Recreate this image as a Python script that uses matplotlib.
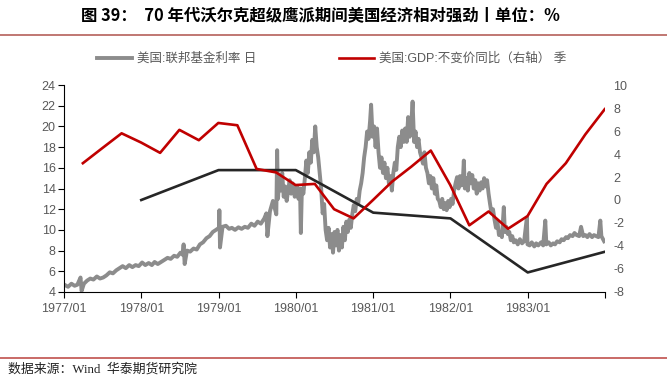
import matplotlib
matplotlib.use("Agg")
import matplotlib.pyplot as plt
from matplotlib.lines import Line2D
import pandas as pd

plt.rcParams['font.family'] = ['Liberation Sans', 'Noto Sans CJK SC']
plt.rcParams['axes.unicode_minus'] = False

# 美国:联邦基金利率 日
ff_dates = ["1977-01-03", "1977-01-20", "1977-02-05", "1977-02-20", "1977-03-05", "1977-03-20",
            "1977-03-25", "1977-04-05", "1977-04-20", "1977-05-05", "1977-05-20", "1977-06-05",
            "1977-06-20", "1977-07-05", "1977-07-20", "1977-08-05", "1977-08-20", "1977-09-05",
            "1977-09-20", "1977-10-05", "1977-10-20", "1977-11-05", "1977-11-20", "1977-12-05",
            "1977-12-20",
            "1978-01-05", "1978-01-20", "1978-02-05", "1978-02-20", "1978-03-05", "1978-03-20",
            "1978-04-05", "1978-04-20", "1978-05-05", "1978-05-20", "1978-06-05", "1978-06-20",
            "1978-07-05", "1978-07-15", "1978-07-20", "1978-07-25", "1978-08-05", "1978-08-20",
            "1978-09-05", "1978-09-20", "1978-10-05", "1978-10-20", "1978-11-05", "1978-11-20",
            "1978-12-05", "1978-12-20",
            "1979-01-03", "1979-01-05", "1979-01-08", "1979-01-20", "1979-02-05", "1979-02-20",
            "1979-03-05", "1979-03-20", "1979-04-05", "1979-04-20", "1979-05-05", "1979-05-20",
            "1979-06-05", "1979-06-20", "1979-07-05", "1979-07-20", "1979-08-05", "1979-08-15",
            "1979-08-20", "1979-09-01", "1979-09-15", "1979-10-01", "1979-10-05", "1979-10-09",
            "1979-10-15", "1979-10-22", "1979-10-29", "1979-11-05", "1979-11-12", "1979-11-19",
            "1979-11-26", "1979-12-03", "1979-12-10", "1979-12-17", "1979-12-27",
            "1980-01-07", "1980-01-14", "1980-01-21", "1980-01-25", "1980-01-30", "1980-02-06",
            "1980-02-13", "1980-02-20", "1980-02-27", "1980-03-05", "1980-03-12", "1980-03-19",
            "1980-03-26", "1980-04-02", "1980-04-09", "1980-04-16", "1980-04-23", "1980-04-30",
            "1980-05-07", "1980-05-14", "1980-05-21", "1980-05-28", "1980-06-04", "1980-06-11",
            "1980-06-18", "1980-06-25", "1980-07-02", "1980-07-09", "1980-07-16", "1980-07-23",
            "1980-07-30", "1980-08-06", "1980-08-13", "1980-08-20", "1980-08-27", "1980-09-03",
            "1980-09-10", "1980-09-17", "1980-09-24", "1980-10-01", "1980-10-08", "1980-10-15",
            "1980-10-22", "1980-10-29", "1980-11-05", "1980-11-12", "1980-11-19", "1980-11-26",
            "1980-12-03", "1980-12-10", "1980-12-17", "1980-12-22", "1980-12-29",
            "1981-01-05", "1981-01-12", "1981-01-19", "1981-01-26", "1981-02-02", "1981-02-09",
            "1981-02-16", "1981-02-23", "1981-03-02", "1981-03-09", "1981-03-16", "1981-03-23",
            "1981-03-30", "1981-04-06", "1981-04-13", "1981-04-20", "1981-04-27", "1981-05-04",
            "1981-05-11", "1981-05-18", "1981-05-25", "1981-06-01", "1981-06-08", "1981-06-15",
            "1981-06-22", "1981-06-29", "1981-07-06", "1981-07-13", "1981-07-20", "1981-07-27",
            "1981-08-03", "1981-08-10", "1981-08-17", "1981-08-24", "1981-08-31", "1981-09-07",
            "1981-09-14", "1981-09-21", "1981-09-28", "1981-10-05", "1981-10-12", "1981-10-19",
            "1981-10-26", "1981-11-02", "1981-11-09", "1981-11-16", "1981-11-23", "1981-11-30",
            "1981-12-07", "1981-12-14", "1981-12-21", "1981-12-28",
            "1982-01-04", "1982-01-11", "1982-01-18", "1982-01-25", "1982-02-01", "1982-02-08",
            "1982-02-15", "1982-02-22", "1982-03-01", "1982-03-05", "1982-03-10", "1982-03-17",
            "1982-03-24", "1982-03-31", "1982-04-07", "1982-04-14", "1982-04-21", "1982-04-28",
            "1982-05-05", "1982-05-12", "1982-05-19", "1982-05-26", "1982-06-02", "1982-06-09",
            "1982-06-16", "1982-06-23", "1982-06-30", "1982-07-07", "1982-07-14", "1982-07-21",
            "1982-07-28", "1982-08-04", "1982-08-11", "1982-08-18", "1982-08-25", "1982-09-01",
            "1982-09-10", "1982-09-15", "1982-09-22", "1982-09-29", "1982-10-06", "1982-10-13",
            "1982-10-20", "1982-10-27", "1982-11-05", "1982-11-15", "1982-11-25", "1982-12-05",
            "1982-12-15", "1982-12-28", "1982-12-31",
            "1983-01-10", "1983-01-20", "1983-02-01", "1983-02-10", "1983-02-20", "1983-03-05",
            "1983-03-15", "1983-03-25", "1983-03-30", "1983-04-10", "1983-04-20", "1983-05-01",
            "1983-05-10", "1983-05-20", "1983-06-01", "1983-06-10", "1983-06-20", "1983-07-01",
            "1983-07-10", "1983-07-20", "1983-08-01", "1983-08-10", "1983-08-20", "1983-09-01",
            "1983-09-10", "1983-09-20", "1983-10-01", "1983-10-10", "1983-10-20", "1983-11-01",
            "1983-11-10", "1983-11-20", "1983-12-01", "1983-12-10", "1983-12-15", "1983-12-28"]
ff_vals = [4.7, 4.5, 4.8, 4.6, 4.7, 5.4,
           4.1, 4.8, 5.1, 5.3, 5.2, 5.5,
           5.3, 5.4, 5.6, 5.9, 5.8, 6.1,
           6.3, 6.5, 6.3, 6.6, 6.4, 6.6,
           6.5,
           6.85, 6.6, 6.8, 6.6, 6.9, 6.7,
           6.9, 7.1, 7.3, 7.2, 7.5, 7.4,
           7.8, 7.6, 8.6, 6.7, 8.0, 7.9,
           8.2, 8.1, 8.6, 8.8, 9.2, 9.4,
           9.8, 10.0,
           10.2, 11.9, 8.3, 10.3, 10.4, 10.1,
           10.2, 10.0, 10.25, 10.1, 10.3, 10.2,
           10.6, 10.4, 10.8, 10.6, 11.1, 11.6,
           9.4, 11.8, 12.8, 11.5, 17.7, 13.0,
           15.0, 13.8, 15.5, 13.2, 14.2, 12.8,
           13.8, 14.8, 13.5, 14.5, 13.2,
           14.2, 13.0, 14.0, 9.7, 14.0, 13.5,
           15.0, 16.7, 15.5, 17.5, 16.5, 18.7,
           17.5, 20.0, 18.0, 17.0, 15.5, 14.0,
           11.6, 12.5, 10.0, 9.0, 10.2, 8.3,
           9.6, 7.8, 9.8, 8.5, 10.0, 8.0,
           9.5, 8.3, 10.3, 9.0, 10.8, 9.8,
           11.0, 10.2, 11.5, 12.4, 11.8, 13.0,
           12.5, 13.8, 14.5, 15.5, 17.0, 18.0,
           19.5, 18.8, 20.5, 22.1, 19.0,
           20.0, 18.0, 19.8, 17.5, 16.0, 17.0,
           15.5, 16.5, 15.0, 16.0, 14.5, 15.2,
           13.8, 15.5, 16.5, 15.8, 18.0, 19.0,
           18.0, 19.6, 18.5, 19.8, 18.5, 20.9,
           19.0, 20.0, 22.4, 18.5, 19.5, 18.0,
           18.8, 17.5, 17.0, 16.4, 17.5, 16.0,
           15.5, 14.5, 15.2, 14.0, 15.0, 13.5,
           14.3, 13.0, 12.8, 12.2, 13.0, 12.0,
           12.6, 11.9, 12.8, 12.2,
           13.0, 12.5, 13.8, 14.5, 15.1, 14.0,
           15.2, 14.3, 15.0, 16.7, 14.0, 15.0,
           13.8, 15.5, 14.5, 15.3, 14.0, 14.8,
           13.5, 14.5, 13.8, 14.6, 14.0, 15.0,
           14.2, 14.8, 13.5, 12.5, 11.6, 12.0,
           11.0, 10.2, 10.8, 9.5, 9.8, 9.3,
           12.2, 9.8, 10.3, 9.6, 9.8, 9.0,
           9.4, 8.8, 9.0, 8.6, 9.1, 8.7,
           8.9, 11.2, 8.6,
           8.5, 8.8, 8.4, 8.7, 8.5, 8.8,
           8.5, 10.9, 8.6, 8.8, 8.5, 8.7,
           8.6, 8.9, 8.8, 9.1, 9.0, 9.3,
           9.2, 9.5, 9.4, 9.7, 9.5, 9.4,
           10.3, 9.4, 9.5, 9.3, 9.6, 9.3,
           9.5, 9.4, 9.3, 10.9, 9.4, 8.9]

# 美国:GDP:不变价同比 季 (右轴)
gdp_dates = ["1977-03-31", "1977-06-30", "1977-09-30", "1977-12-31",
             "1978-03-31", "1978-06-30", "1978-09-30", "1978-12-31",
             "1979-03-31", "1979-06-30", "1979-09-30", "1979-12-31",
             "1980-03-31", "1980-06-30", "1980-09-30", "1980-12-31",
             "1981-03-31", "1981-06-30", "1981-09-30", "1981-12-31",
             "1982-03-31", "1982-06-30", "1982-09-30", "1982-12-31",
             "1983-03-31", "1983-06-30", "1983-09-30", "1983-12-31"]
gdp_vals = [3.2, 4.5, 5.8, 5.0,
            4.1, 6.1, 5.2, 6.7,
            6.5, 2.7, 2.4, 1.3,
            1.4, -0.8, -1.6, 0.0,
            1.6, 2.9, 4.3, 1.3,
            -2.2, -1.0, -2.5, -1.4,
            1.4, 3.2, 5.7, 7.9]

# 无图例的黑线 (年度, 右轴)
rel_dates = ["1978-01-01", "1979-01-01", "1980-01-01", "1981-01-01",
             "1982-01-01", "1983-01-01", "1984-01-01"]
rel_vals = [0.0, 2.6, 2.6, -1.1, -1.6, -6.3, -4.5]

year_ticks = ["1977-01-01", "1978-01-01", "1979-01-01", "1980-01-01",
              "1981-01-01", "1982-01-01", "1983-01-01", "1984-01-01"]
year_labels = ["1977/01", "1978/01", "1979/01", "1980/01", "1981/01", "1982/01", "1983/01", ""]

fig = plt.figure(figsize=(6.67, 3.77), dpi=100)
ax = fig.add_axes([0.096, 0.2255, 0.811, 0.549])
ax2 = ax.twinx()

l1, = ax.plot(pd.to_datetime(ff_dates), ff_vals, color='#8c8c8c', lw=2.8)
ax2.plot(pd.to_datetime(rel_dates), rel_vals, color='#262626', lw=1.9)
l2, = ax2.plot(pd.to_datetime(gdp_dates), gdp_vals, color='#c00000', lw=1.9)

ax.set_xlim(pd.Timestamp("1977-01-01"), pd.Timestamp("1984-01-01"))
ax.set_ylim(4, 24)
ax.set_yticks(range(4, 25, 2))
ax2.set_ylim(-8, 10)
ax2.set_yticks(range(-8, 11, 2))
ax.set_xticks(pd.to_datetime(year_ticks))
ax.set_xticklabels(year_labels)

for s in ['top', 'right']:
    ax.spines[s].set_visible(False)
for s in ['top', 'right', 'left', 'bottom']:
    ax2.spines[s].set_visible(False)
ax.tick_params(axis='y', direction='out', length=4, width=0.8, labelsize=9, labelcolor='#595959', pad=2)
ax.tick_params(axis='x', direction='out', length=4, width=0.8, labelsize=9, labelcolor='#595959', pad=4)
ax2.tick_params(axis='y', length=0, labelsize=9, labelcolor='#595959', pad=6)

ax.legend([l1, l2], ["美国:联邦基金利率 日", "美国:GDP:不变价同比（右轴） 季"],
          loc='center', bbox_to_anchor=(0.494, 1.126), ncol=2, frameon=False,
          fontsize=9, handlelength=2.8, columnspacing=6.6, handletextpad=0.4,
          labelcolor='#595959')

fig.text(0.48, 0.96, "图 39：  70 年代沃尔克超级鹰派期间美国经济相对强劲丨单位：%",
         ha='center', va='center', fontsize=11.8, fontweight='bold',
         family=['Noto Sans CJK SC', 'DejaVu Sans'])
fig.add_artist(Line2D([0, 1], [1 - 34.5 / 377] * 2, color='#b5605a', lw=1.2))
fig.add_artist(Line2D([0, 1], [1 - 358 / 377] * 2, color='#c0504d', lw=1.2))
fig.text(0.012, 1 - 369 / 377, "数据来源：Wind  华泰期货研究院", ha='left', va='center',
         fontsize=9.3, color='#222222', family=['Liberation Serif', 'Noto Sans CJK SC'])

fig.savefig("out.png", dpi=100)
